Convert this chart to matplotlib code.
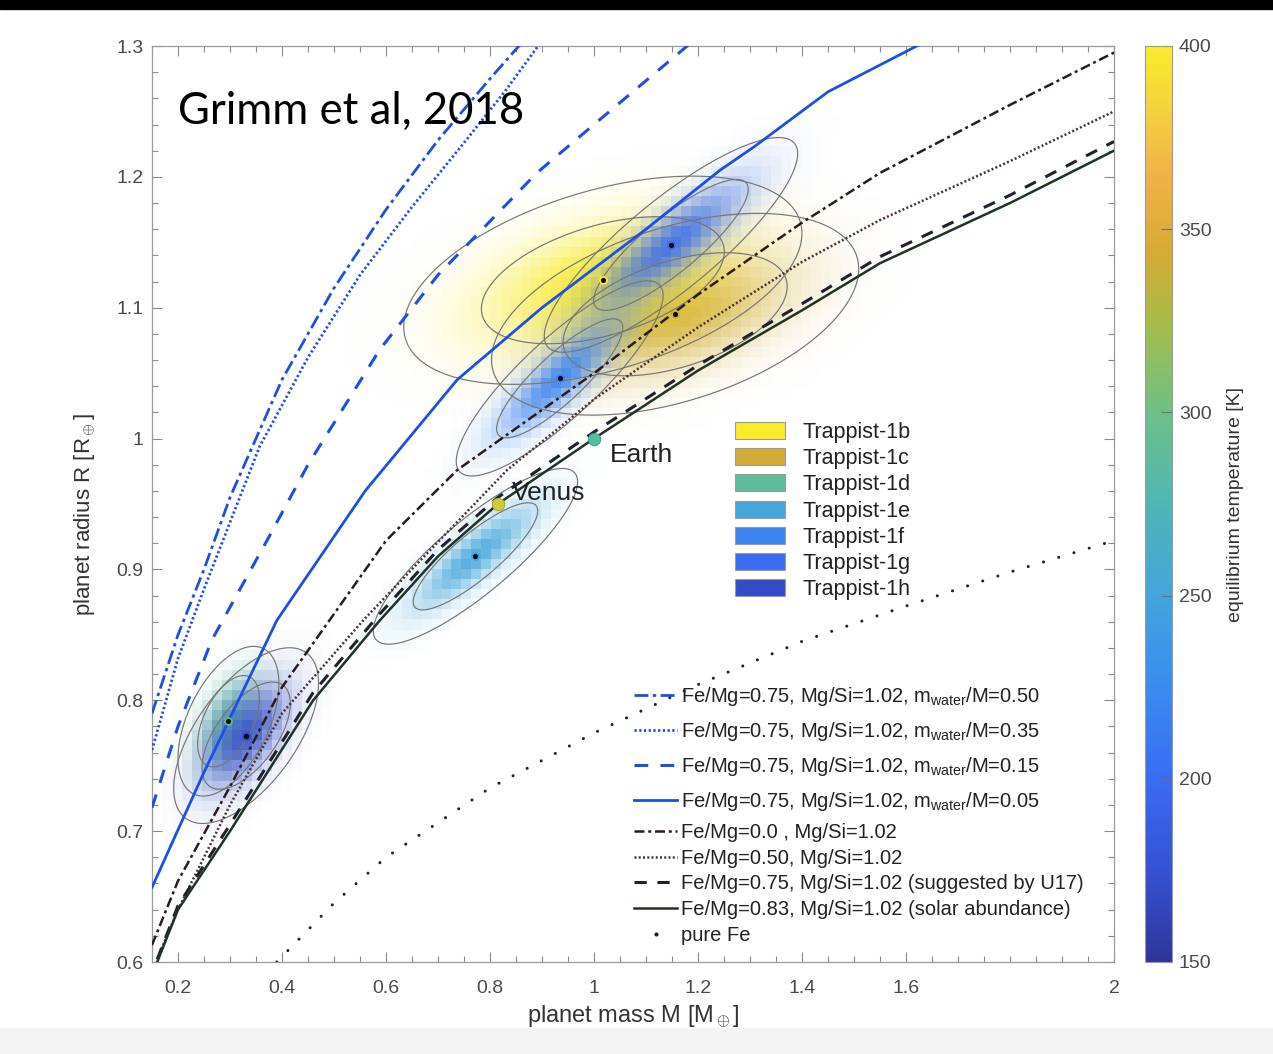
import numpy as np
import matplotlib
matplotlib.use('Agg')
import matplotlib.pyplot as plt
from matplotlib.colors import LinearSegmentedColormap, Normalize
from matplotlib.patches import Patch, Rectangle
from matplotlib.lines import Line2D

plt.rcParams['font.family'] = ['Liberation Sans', 'DejaVu Sans']
plt.rcParams['mathtext.fontset'] = 'custom'
plt.rcParams['mathtext.rm'] = 'Liberation Sans'
plt.rcParams['mathtext.it'] = 'Liberation Sans:italic'

# ── Planets (Grimm et al. 2018) ───────────────────────────────────────────────
planet_names = ['Trappist-1b', 'Trappist-1c', 'Trappist-1d', 'Trappist-1e',
                'Trappist-1f', 'Trappist-1g', 'Trappist-1h']
planet_mass = [1.017, 1.156, 0.297, 0.772, 0.934, 1.148, 0.331]
planet_mass_err = [0.154, 0.142, 0.039, 0.079, 0.080, 0.098, 0.056]
planet_radius = [1.121, 1.095, 0.784, 0.910, 1.046, 1.148, 0.773]
planet_radius_err = [0.032, 0.031, 0.023, 0.027, 0.030, 0.033, 0.027]
planet_corr = [0.45, 0.45, 0.5, 0.85, 0.85, 0.85, 0.6]
planet_teq = [400, 342, 288, 251, 219, 199, 169]
draw_order = [1, 0, 2, 6, 3, 4, 5]

# ── Model curves (mass, radius) ───────────────────────────────────────────────
w50_m = [0.15, 0.2, 0.25, 0.3, 0.4, 0.5, 0.6, 0.7, 0.8, 0.9]
w50_r = [0.79, 0.85, 0.90, 0.955, 1.045, 1.115, 1.175, 1.228, 1.275, 1.32]
w35_m = [0.15, 0.2, 0.25, 0.357, 0.45, 0.55, 0.65, 0.75, 0.83, 0.92]
w35_r = [0.762, 0.832, 0.885, 0.994, 1.062, 1.125, 1.177, 1.226, 1.266, 1.315]
w15_m = [0.15, 0.2, 0.265, 0.371, 0.45, 0.588, 0.7, 0.89, 1.0, 1.2]
w15_r = [0.718, 0.78, 0.846, 0.922, 0.98, 1.068, 1.125, 1.203, 1.24, 1.307]
w05_m = [0.15, 0.25, 0.39, 0.56, 0.737, 0.9, 1.1, 1.242, 1.308, 1.45, 1.65]
w05_r = [0.657, 0.745, 0.861, 0.96, 1.045, 1.10, 1.16, 1.205, 1.223, 1.265, 1.306]

fe00_m = [0.15, 0.2, 0.3, 0.4, 0.6, 0.737, 1.0, 1.2, 1.4, 1.55, 1.8, 2.0]
fe00_r = [0.613, 0.662, 0.734, 0.81, 0.922, 0.976, 1.05, 1.11, 1.165, 1.203, 1.255, 1.295]
fe50_m = [0.165, 0.2, 0.3, 0.4, 0.556, 0.7, 0.833, 1.0, 1.2, 1.4, 1.55, 1.8, 2.0]
fe50_r = [0.607, 0.64, 0.72, 0.79, 0.861, 0.921, 0.976, 1.03, 1.085, 1.135, 1.167, 1.212, 1.25]
fe75_m = [0.16, 0.2, 0.3, 0.46, 0.588, 0.7, 0.815, 1.0, 1.2, 1.4, 1.55, 1.8, 2.0]
fe75_r = [0.602, 0.643, 0.705, 0.806, 0.866, 0.915, 0.955, 1.005, 1.056, 1.103, 1.139, 1.186, 1.227]
fe83_m = [0.16, 0.2, 0.3, 0.46, 0.588, 0.7, 0.815, 1.0, 1.2, 1.4, 1.55, 1.8, 2.0]
fe83_r = [0.600, 0.640, 0.700, 0.800, 0.861, 0.910, 0.950, 1.000, 1.052, 1.098, 1.134, 1.180, 1.220]
pure_fe_m = [0.39, 0.5, 0.6, 0.8, 1.0, 1.2, 1.4, 1.6, 1.8, 2.0]
pure_fe_r = [0.600, 0.645, 0.680, 0.733, 0.775, 0.812, 0.845, 0.872, 0.898, 0.922]

earth = (1.0, 1.0)
venus = (0.815, 0.95)

# ── Colour map (parula-like) ─────────────────────────────────────────────────
cmap_pos = [0.0, 0.1, 0.2, 0.3, 0.4, 0.5, 0.6, 0.7, 0.78, 0.86, 0.93, 1.0]
cmap_col = ['#2e3599', '#3553d6', '#3a6cf2', '#3a8cf0', '#43a5dc', '#50b5b5',
            '#6ec088', '#a8bc48', '#d8aa34', '#f0b248', '#f4d040', '#faec2a']
cmap = LinearSegmentedColormap.from_list('parulaish', list(zip(cmap_pos, cmap_col)))
norm = Normalize(150, 400)

W, H = 1273, 1054
fig = plt.figure(figsize=(W / 100, H / 100), dpi=100)
fig.patches.append(Rectangle((0, 1 - 9 / H), 1, 9 / H, transform=fig.transFigure,
                             color='black', zorder=-5))
fig.patches.append(Rectangle((0, 0), 1, 26 / H, transform=fig.transFigure,
                             color='#f4f4f4', zorder=-5))

ax = fig.add_axes([152 / W, 92 / H, 962 / W, 916 / H])
xlim = (0.15, 2.0)
ylim = (0.6, 1.3)
ax.set_xlim(xlim)
ax.set_ylim(ylim)

# ── Posterior clouds ─────────────────────────────────────────────────────────
mc = np.arange(xlim[0], xlim[1], 0.0192) + 0.0096
rc = np.arange(ylim[0], ylim[1], 0.0077) + 0.00385
MC, RC = np.meshgrid(mc, rc)
mf = np.linspace(xlim[0], xlim[1], 500)
rf = np.linspace(ylim[0], ylim[1], 500)
MF, RF = np.meshgrid(mf, rf)


def _density(M, R, i):
    dm = (M - planet_mass[i]) / planet_mass_err[i]
    dr = (R - planet_radius[i]) / planet_radius_err[i]
    rho = planet_corr[i]
    q = (dm ** 2 - 2 * rho * dm * dr + dr ** 2) / (1 - rho ** 2)
    return np.exp(-0.5 * q)


for i in draw_order:
    d = _density(MC, RC, i)
    rgba = np.zeros(d.shape + (4,))
    rgba[..., :3] = cmap(norm(planet_teq[i]))[:3]
    rgba[..., 3] = 0.9 * d
    ax.imshow(rgba, extent=(mc[0] - 0.0096, mc[-1] + 0.0096, rc[0] - 0.00385, rc[-1] + 0.00385),
              origin='lower', aspect='auto', interpolation='nearest', zorder=1)

for i in draw_order:
    ax.contour(MF, RF, _density(MF, RF, i), levels=[np.exp(-6.18 / 2), np.exp(-2.30 / 2)],
               colors='#767676', linewidths=0.85, zorder=2)

# ── Model curves ─────────────────────────────────────────────────────────────
blue = '#1d4fe6'
water_lines = [
    (w50_m, w50_r, dict(color=blue, ls=(0, (5, 1.6, 1.2, 1.6)), lw=2.0),
     r'Fe/Mg=0.75, Mg/Si=1.02, m$_{\rm water}$/M=0.50'),
    (w35_m, w35_r, dict(color=blue, ls=(0, (0.8, 0.9)), lw=2.0),
     r'Fe/Mg=0.75, Mg/Si=1.02, m$_{\rm water}$/M=0.35'),
    (w15_m, w15_r, dict(color=blue, ls=(0, (4.5, 4)), lw=2.2),
     r'Fe/Mg=0.75, Mg/Si=1.02, m$_{\rm water}$/M=0.15'),
    (w05_m, w05_r, dict(color=blue, ls='-', lw=2.0),
     r'Fe/Mg=0.75, Mg/Si=1.02, m$_{\rm water}$/M=0.05'),
]
rock_lines = [
    (fe00_m, fe00_r, dict(color='#2a1c1c', ls=(0, (4, 1.5, 1.2, 1.5)), lw=1.8),
     'Fe/Mg=0.0 , Mg/Si=1.02'),
    (fe50_m, fe50_r, dict(color='#4a3030', ls=(0, (0.8, 0.9)), lw=1.8),
     'Fe/Mg=0.50, Mg/Si=1.02'),
    (fe75_m, fe75_r, dict(color='#20202e', ls=(0, (4, 3.5)), lw=2.2),
     'Fe/Mg=0.75, Mg/Si=1.02 (suggested by U17)'),
    (fe83_m, fe83_r, dict(color='#1f3422', ls='-', lw=1.8),
     'Fe/Mg=0.83, Mg/Si=1.02 (solar abundance)'),
]
water_handles = []
for xs, ys, kw, lab in water_lines:
    h, = ax.plot(xs, ys, zorder=3, label=lab, **kw)
    water_handles.append(h)
rock_handles = []
for xs, ys, kw, lab in rock_lines:
    h, = ax.plot(xs, ys, zorder=3, label=lab, **kw)
    rock_handles.append(h)
ax.plot(pure_fe_m, pure_fe_r, color='#222222', lw=2.2, ls=(0, (0.01, 5.2)),
        dash_capstyle='round', zorder=3)
rock_handles.append(Line2D([], [], ls='none', marker='.', ms=4, color='#222222',
                           label='pure Fe'))

# planet centres
for i in range(len(planet_names)):
    ax.plot(planet_mass[i], planet_radius[i], 'o', ms=5, mfc='black',
            mec=cmap(norm(planet_teq[i])), mew=1.3, zorder=4)

ax.plot(*earth, 'o', ms=9, mfc='#50bfa0', mec='#3a9a80', mew=0.6, zorder=4)
ax.plot(*venus, 'o', ms=9, mfc='#cdcb3a', mec='#a5a22a', mew=0.6, zorder=4)
ax.text(1.03, 0.982, 'Earth', fontsize=19, color='#222222', zorder=5)
ax.text(0.843, 0.953, 'Venus', fontsize=19, color='#222222', zorder=5)
ax.text(0.2, 1.2405, 'Grimm et al, 2018', fontsize=31.5, family='Lato', color='black', zorder=5)

# ── Legends ──────────────────────────────────────────────────────────────────
planet_handles = [Patch(facecolor=cmap(norm(t)), edgecolor='#9a9a9a', lw=0.8)
                  for t in planet_teq]
leg1 = ax.legend(planet_handles, planet_names, loc='upper left',
                 bbox_to_anchor=((735 - 152) / 962, (962 - 422) / 916),
                 frameon=False, fontsize=15.5, borderpad=0, borderaxespad=0,
                 handlelength=2.33, handleheight=0.84, handletextpad=0.8,
                 labelspacing=0.24)
ax.add_artist(leg1)

leg2 = ax.legend(handles=water_handles, loc='upper left',
                 bbox_to_anchor=((634 - 152) / 962, (962 - 685) / 916),
                 frameon=False, fontsize=14.5, borderpad=0, borderaxespad=0,
                 handlelength=2.15, handletextpad=0.2, labelspacing=0.6)
ax.add_artist(leg2)

leg3 = ax.legend(handles=rock_handles, loc='upper left',
                 bbox_to_anchor=((634 - 152) / 962, (962 - 823) / 916),
                 frameon=False, fontsize=14.5, borderpad=0, borderaxespad=0,
                 handlelength=2.15, handletextpad=0.2, labelspacing=0.33)
for lg in (leg1, leg2, leg3):
    for t in lg.get_texts():
        t.set_color('#222222')

# ── Axes styling ─────────────────────────────────────────────────────────────
ax.set_xticks([0.2, 0.4, 0.6, 0.8, 1.0, 1.2, 1.4, 1.6, 2.0])
ax.set_xticklabels(['0.2', '0.4', '0.6', '0.8', '1', '1.2', '1.4', '1.6', '2'])
ax.set_xticks(np.arange(0.15, 2.001, 0.05), minor=True)
ax.set_yticks([0.6, 0.7, 0.8, 0.9, 1.0, 1.1, 1.2, 1.3])
ax.set_yticklabels(['0.6', '0.7', '0.8', '0.9', '1', '1.1', '1.2', '1.3'])
ax.set_yticks(np.arange(0.6, 1.301, 0.02), minor=True)
ax.tick_params(which='both', direction='in', top=True, right=True,
               color='#8a8a8a', labelcolor='#4a4a4a', labelsize=14, width=0.8)
ax.tick_params(which='major', length=7)
ax.tick_params(axis='x', which='major', pad=13)
ax.tick_params(axis='y', which='major', pad=6)
ax.tick_params(which='minor', length=4)
for s in ax.spines.values():
    s.set_color('#9a9a9a')
    s.set_linewidth(0.9)
ax.set_xlabel(r'planet mass M [M$_\oplus$]', fontsize=17, color='#333333', labelpad=4)
ax.set_ylabel(r'planet radius R [R$_\oplus$]', fontsize=16, color='#333333')
ax.yaxis.set_label_coords(-0.056, 0.488)

# ── Colour bar ───────────────────────────────────────────────────────────────
cax = fig.add_axes([1145 / W, 92 / H, 27 / W, 916 / H])
sm = plt.cm.ScalarMappable(norm=norm, cmap=cmap)
cb = fig.colorbar(sm, cax=cax, ticks=[150, 200, 250, 300, 350, 400])
cb.outline.set_edgecolor('#9a9a9a')
cb.ax.tick_params(direction='in', length=8, color='#707070', labelcolor='#4a4a4a',
                  labelsize=14, pad=5)
cb.set_label('equilibrium temperature [K]', fontsize=14, color='#333333', labelpad=11)

fig.savefig('out.png', dpi=100)
